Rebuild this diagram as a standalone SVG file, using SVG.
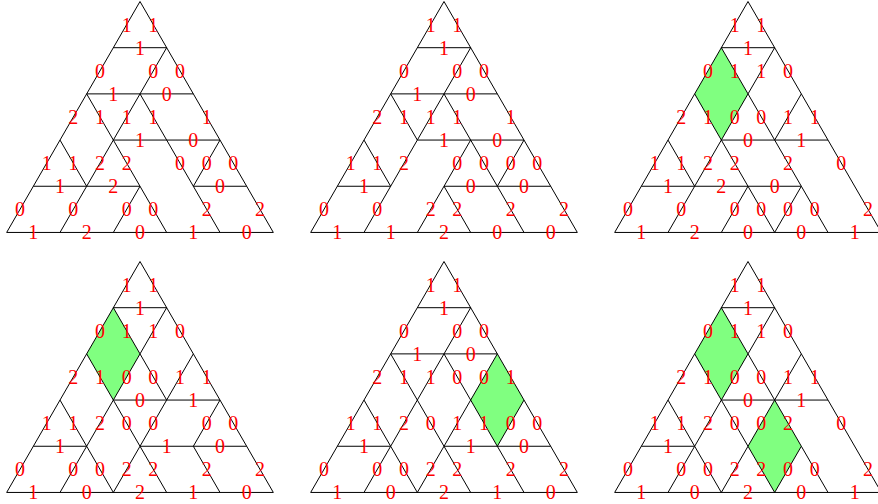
<svg xmlns="http://www.w3.org/2000/svg" width="878" height="504" viewBox="0 0 878 504">
<style>
.e{stroke:#000;stroke-width:1;fill:none}
.g{fill:#80ff80;stroke:none}
text{font-family:"Liberation Serif","Times New Roman",serif;font-size:20px;fill:#ff0000;text-anchor:middle}
</style>
<defs>
<polygon id="outer" points="0,0 -133.33,230.94 133.33,230.94" class="e"/>
<path id="rh1" class="g" d="M-26.67 46.19L0 92.38L-26.67 138.56L-53.33 92.38Z"/>
</defs>
<rect width="878" height="504" fill="#fff"/>

<g id="panel1" transform="translate(140,1.5)">
<use href="#outer"/>
<g id="edges1"><path class="e" d="M-26.67 46.19H26.67M26.67 46.19L0 92.38M-53.33 92.38H53.33M-53.33 92.38L-26.67 138.56M0 92.38L-26.67 138.56M0 92.38L26.67 138.56M-26.67 138.56H80M-80 138.56L-53.33 184.75M-26.67 138.56L-53.33 184.75M-26.67 138.56L0 184.75M26.67 138.56L53.33 184.75M80 138.56L53.33 184.75M-106.67 184.75H0M53.33 184.75H106.67M-53.33 184.75L-80 230.94M0 184.75L-26.67 230.94M0 184.75L26.67 230.94M53.33 184.75L80 230.94"/></g>
<g id="labels1">
<text x="-13.33" y="30.1">1</text><text x="13.33" y="30.1">1</text>
<text x="0" y="53.2">1</text>
<text x="-40" y="76.3">0</text><text x="13.33" y="76.3">0</text><text x="40" y="76.3">0</text>
<text x="-26.67" y="99.4">1</text><text x="26.67" y="99.4">0</text>
<text x="-66.67" y="122.5">2</text><text x="-40" y="122.5">1</text><text x="-13.33" y="122.5">1</text><text x="13.33" y="122.5">1</text><text x="66.67" y="122.5">1</text>
<text x="0" y="145.6">1</text><text x="53.33" y="145.6">0</text>
<text x="-93.33" y="168.7">1</text><text x="-66.67" y="168.7">1</text><text x="-40" y="168.7">2</text><text x="-13.33" y="168.7">2</text><text x="40" y="168.7">0</text><text x="66.67" y="168.7">0</text><text x="93.33" y="168.7">0</text>
<text x="-80" y="191.8">1</text><text x="-26.67" y="191.8">2</text><text x="80" y="191.8">0</text>
<text x="-120" y="214.8">0</text><text x="-66.67" y="214.8">0</text><text x="-13.33" y="214.8">0</text><text x="13.33" y="214.8">0</text><text x="66.67" y="214.8">2</text><text x="120" y="214.8">2</text>
<text x="-106.67" y="237.9">1</text><text x="-53.33" y="237.9">2</text><text x="0" y="237.9">0</text><text x="53.33" y="237.9">1</text><text x="106.67" y="237.9">0</text>
</g>
</g>

<g id="panel2" transform="translate(444,1.5)">
<use href="#outer"/>
<g id="edges2"><path class="e" d="M-26.67 46.19H26.67M26.67 46.19L0 92.38M-53.33 92.38H53.33M-53.33 92.38L-26.67 138.56M0 92.38L-26.67 138.56M0 92.38L26.67 138.56M-26.67 138.56H80M-80 138.56L-53.33 184.75M-26.67 138.56L-53.33 184.75M26.67 138.56L0 184.75M26.67 138.56L53.33 184.75M80 138.56L53.33 184.75M-106.67 184.75H-53.33M0 184.75H106.67M-53.33 184.75L-80 230.94M0 184.75L-26.67 230.94M0 184.75L26.67 230.94M53.33 184.75L80 230.94"/></g>
<g id="labels2">
<text x="-13.33" y="30.1">1</text><text x="13.33" y="30.1">1</text>
<text x="0" y="53.2">1</text>
<text x="-40" y="76.3">0</text><text x="13.33" y="76.3">0</text><text x="40" y="76.3">0</text>
<text x="-26.67" y="99.4">1</text><text x="26.67" y="99.4">0</text>
<text x="-66.67" y="122.5">2</text><text x="-40" y="122.5">1</text><text x="-13.33" y="122.5">1</text><text x="13.33" y="122.5">1</text><text x="66.67" y="122.5">1</text>
<text x="0" y="145.6">1</text><text x="53.33" y="145.6">0</text>
<text x="-93.33" y="168.7">1</text><text x="-66.67" y="168.7">1</text><text x="-40" y="168.7">2</text><text x="13.33" y="168.7">0</text><text x="40" y="168.7">0</text><text x="66.67" y="168.7">0</text><text x="93.33" y="168.7">0</text>
<text x="-80" y="191.8">1</text><text x="26.67" y="191.8">0</text><text x="80" y="191.8">0</text>
<text x="-120" y="214.8">0</text><text x="-66.67" y="214.8">0</text><text x="-13.33" y="214.8">2</text><text x="13.33" y="214.8">2</text><text x="66.67" y="214.8">2</text><text x="120" y="214.8">2</text>
<text x="-106.67" y="237.9">1</text><text x="-53.33" y="237.9">1</text><text x="0" y="237.9">2</text><text x="53.33" y="237.9">0</text><text x="106.67" y="237.9">0</text>
</g>
</g>

<g id="panel3" transform="translate(748,1.5)">
<use href="#rh1"/>
<use href="#outer"/>
<g id="edges3"><path class="e" d="M-26.67 46.19H26.67M-26.67 46.19L0 92.38M26.67 46.19L0 92.38M-53.33 92.38L-26.67 138.56M0 92.38L-26.67 138.56M0 92.38L26.67 138.56M53.33 92.38L26.67 138.56M-26.67 138.56H80M-80 138.56L-53.33 184.75M-26.67 138.56L-53.33 184.75M-26.67 138.56L0 184.75M26.67 138.56L53.33 184.75M-106.67 184.75H53.33M-53.33 184.75L-80 230.94M0 184.75L-26.67 230.94M0 184.75L26.67 230.94M53.33 184.75L26.67 230.94M53.33 184.75L80 230.94"/></g>
<g id="labels3">
<text x="-13.33" y="30.1">1</text><text x="13.33" y="30.1">1</text>
<text x="0" y="53.2">1</text>
<text x="-40" y="76.3">0</text><text x="-13.33" y="76.3">1</text><text x="13.33" y="76.3">1</text><text x="40" y="76.3">0</text>
<text x="-66.67" y="122.5">2</text><text x="-40" y="122.5">1</text><text x="-13.33" y="122.5">0</text><text x="13.33" y="122.5">0</text><text x="40" y="122.5">1</text><text x="66.67" y="122.5">1</text>
<text x="0" y="145.6">0</text><text x="53.33" y="145.6">1</text>
<text x="-93.33" y="168.7">1</text><text x="-66.67" y="168.7">1</text><text x="-40" y="168.7">2</text><text x="-13.33" y="168.7">2</text><text x="40" y="168.7">2</text><text x="93.33" y="168.7">0</text>
<text x="-80" y="191.8">1</text><text x="-26.67" y="191.8">2</text><text x="26.67" y="191.8">0</text>
<text x="-120" y="214.8">0</text><text x="-66.67" y="214.8">0</text><text x="-13.33" y="214.8">0</text><text x="13.33" y="214.8">0</text><text x="40" y="214.8">0</text><text x="66.67" y="214.8">0</text><text x="120" y="214.8">2</text>
<text x="-106.67" y="237.9">1</text><text x="-53.33" y="237.9">2</text><text x="0" y="237.9">0</text><text x="53.33" y="237.9">0</text><text x="106.67" y="237.9">1</text>
</g>
</g>

<g id="panel4" transform="translate(140,261.5)">
<use href="#rh1"/>
<use href="#outer"/>
<g id="edges4"><path class="e" d="M-26.67 46.19H26.67M-26.67 46.19L0 92.38M26.67 46.19L0 92.38M-53.33 92.38L-26.67 138.56M0 92.38L-26.67 138.56M0 92.38L26.67 138.56M53.33 92.38L26.67 138.56M-26.67 138.56H80M-80 138.56L-53.33 184.75M-26.67 138.56L-53.33 184.75M-26.67 138.56L0 184.75M26.67 138.56L0 184.75M80 138.56L53.33 184.75M-106.67 184.75H-53.33M0 184.75H106.67M-53.33 184.75L-80 230.94M-53.33 184.75L-26.67 230.94M0 184.75L-26.67 230.94M0 184.75L26.67 230.94M53.33 184.75L80 230.94"/></g>
<g id="labels4">
<text x="-13.33" y="30.1">1</text><text x="13.33" y="30.1">1</text>
<text x="0" y="53.2">1</text>
<text x="-40" y="76.3">0</text><text x="-13.33" y="76.3">1</text><text x="13.33" y="76.3">1</text><text x="40" y="76.3">0</text>
<text x="-66.67" y="122.5">2</text><text x="-40" y="122.5">1</text><text x="-13.33" y="122.5">0</text><text x="13.33" y="122.5">0</text><text x="40" y="122.5">1</text><text x="66.67" y="122.5">1</text>
<text x="0" y="145.6">0</text><text x="53.33" y="145.6">1</text>
<text x="-93.33" y="168.7">1</text><text x="-66.67" y="168.7">1</text><text x="-40" y="168.7">2</text><text x="-13.33" y="168.7">0</text><text x="13.33" y="168.7">0</text><text x="66.67" y="168.7">0</text><text x="93.33" y="168.7">0</text>
<text x="-80" y="191.8">1</text><text x="26.67" y="191.8">1</text><text x="80" y="191.8">0</text>
<text x="-120" y="214.8">0</text><text x="-66.67" y="214.8">0</text><text x="-40" y="214.8">0</text><text x="-13.33" y="214.8">2</text><text x="13.33" y="214.8">2</text><text x="66.67" y="214.8">2</text><text x="120" y="214.8">2</text>
<text x="-106.67" y="237.9">1</text><text x="-53.33" y="237.9">0</text><text x="0" y="237.9">2</text><text x="53.33" y="237.9">1</text><text x="106.67" y="237.9">0</text>
</g>
</g>

<g id="panel5" transform="translate(444,261.5)">
<path class="g" d="M53.33 92.38L80 138.56L53.33 184.75L26.67 138.56Z"/>
<use href="#outer"/>
<g id="edges5"><path class="e" d="M-26.67 46.19H26.67M26.67 46.19L0 92.38M-53.33 92.38H53.33M-53.33 92.38L-26.67 138.56M0 92.38L-26.67 138.56M0 92.38L26.67 138.56M53.33 92.38L26.67 138.56M-80 138.56L-53.33 184.75M-26.67 138.56L-53.33 184.75M-26.67 138.56L0 184.75M26.67 138.56L0 184.75M26.67 138.56L53.33 184.75M80 138.56L53.33 184.75M-106.67 184.75H-53.33M0 184.75H106.67M-53.33 184.75L-80 230.94M-53.33 184.75L-26.67 230.94M0 184.75L-26.67 230.94M0 184.75L26.67 230.94M53.33 184.75L80 230.94"/></g>
<g id="labels5">
<text x="-13.33" y="30.1">1</text><text x="13.33" y="30.1">1</text>
<text x="0" y="53.2">1</text>
<text x="-40" y="76.3">0</text><text x="13.33" y="76.3">0</text><text x="40" y="76.3">0</text>
<text x="-26.67" y="99.4">1</text><text x="26.67" y="99.4">0</text>
<text x="-66.67" y="122.5">2</text><text x="-40" y="122.5">1</text><text x="-13.33" y="122.5">1</text><text x="13.33" y="122.5">0</text><text x="40" y="122.5">0</text><text x="66.67" y="122.5">1</text>
<text x="-93.33" y="168.7">1</text><text x="-66.67" y="168.7">1</text><text x="-40" y="168.7">2</text><text x="-13.33" y="168.7">0</text><text x="13.33" y="168.7">1</text><text x="40" y="168.7">1</text><text x="66.67" y="168.7">0</text><text x="93.33" y="168.7">0</text>
<text x="-80" y="191.8">1</text><text x="26.67" y="191.8">1</text><text x="80" y="191.8">0</text>
<text x="-120" y="214.8">0</text><text x="-66.67" y="214.8">0</text><text x="-40" y="214.8">0</text><text x="-13.33" y="214.8">2</text><text x="13.33" y="214.8">2</text><text x="66.67" y="214.8">2</text><text x="120" y="214.8">2</text>
<text x="-106.67" y="237.9">1</text><text x="-53.33" y="237.9">0</text><text x="0" y="237.9">2</text><text x="53.33" y="237.9">1</text><text x="106.67" y="237.9">0</text>
</g>
</g>

<g id="panel6" transform="translate(748,261.5)">
<use href="#rh1"/>
<path class="g" d="M26.67 138.56L53.33 184.75L26.67 230.94L0 184.75Z"/>
<use href="#outer"/>
<g id="edges6"><path class="e" d="M-26.67 46.19H26.67M-26.67 46.19L0 92.38M26.67 46.19L0 92.38M-53.33 92.38L-26.67 138.56M0 92.38L-26.67 138.56M0 92.38L26.67 138.56M53.33 92.38L26.67 138.56M-26.67 138.56H80M-80 138.56L-53.33 184.75M-26.67 138.56L-53.33 184.75M-26.67 138.56L0 184.75M26.67 138.56L0 184.75M26.67 138.56L53.33 184.75M-106.67 184.75H-53.33M-53.33 184.75L-80 230.94M-53.33 184.75L-26.67 230.94M0 184.75L-26.67 230.94M0 184.75L26.67 230.94M53.33 184.75L26.67 230.94M53.33 184.75L80 230.94"/></g>
<g id="labels6">
<text x="-13.33" y="30.1">1</text><text x="13.33" y="30.1">1</text>
<text x="0" y="53.2">1</text>
<text x="-40" y="76.3">0</text><text x="-13.33" y="76.3">1</text><text x="13.33" y="76.3">1</text><text x="40" y="76.3">0</text>
<text x="-66.67" y="122.5">2</text><text x="-40" y="122.5">1</text><text x="-13.33" y="122.5">0</text><text x="13.33" y="122.5">0</text><text x="40" y="122.5">1</text><text x="66.67" y="122.5">1</text>
<text x="0" y="145.6">0</text><text x="53.33" y="145.6">1</text>
<text x="-93.33" y="168.7">1</text><text x="-66.67" y="168.7">1</text><text x="-40" y="168.7">2</text><text x="-13.33" y="168.7">0</text><text x="13.33" y="168.7">0</text><text x="40" y="168.7">2</text><text x="93.33" y="168.7">0</text>
<text x="-80" y="191.8">1</text>
<text x="-120" y="214.8">0</text><text x="-66.67" y="214.8">0</text><text x="-40" y="214.8">0</text><text x="-13.33" y="214.8">2</text><text x="13.33" y="214.8">2</text><text x="40" y="214.8">0</text><text x="66.67" y="214.8">0</text><text x="120" y="214.8">2</text>
<text x="-106.67" y="237.9">1</text><text x="-53.33" y="237.9">0</text><text x="0" y="237.9">2</text><text x="53.33" y="237.9">0</text><text x="106.67" y="237.9">1</text>
</g>
</g>
</svg>
